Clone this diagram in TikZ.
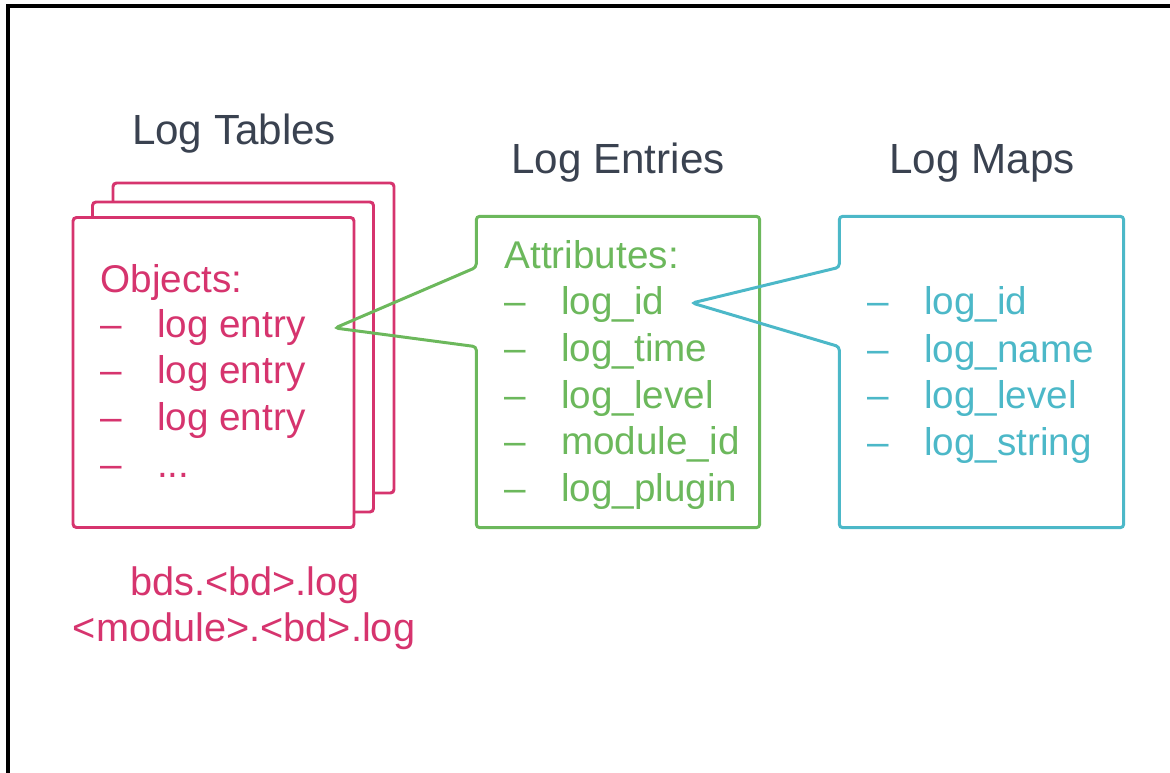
\documentclass[tikz,border=0pt]{standalone}
\usepackage{fontspec}
\setmainfont{Liberation Sans}
\usepackage{tikz}
\usetikzlibrary{positioning,calc}
\definecolor{logpink}{RGB}{214,52,110}
\definecolor{loggreen}{RGB}{108,184,92}
\definecolor{logcyan}{RGB}{76,184,200}
\definecolor{logtitle}{RGB}{58,66,80}
\newcommand{\litem}[1]{\makebox[5.65mm][l]{--}#1}

\begin{document}
\begin{tikzpicture}[x=0.1mm, y=-0.1mm,
hd/.style={font=\fontsize{12}{14}\selectfont, text=logtitle, anchor=base, inner sep=0pt},
tbl/.style={draw=logpink, fill=white, line width=0.85pt, rounded corners=1pt, inner sep=0pt,
minimum width=28.1mm, minimum height=31mm},
slot/.style={inner sep=0pt, minimum width=28.2mm, minimum height=31mm},
pinktxt/.style={font=\fontsize{11}{13}\selectfont, text=logpink, anchor=base west, inner sep=0pt},
greentxt/.style={font=\fontsize{11}{13}\selectfont, text=loggreen, anchor=base west, inner sep=0pt},
cyantxt/.style={font=\fontsize{11}{13}\selectfont, text=logcyan, anchor=base west, inner sep=0pt},
filetxt/.style={font=\fontsize{11.3}{13}\selectfont, text=logpink, anchor=base, inner sep=0pt},
entline/.style={draw=loggreen, line width=0.85pt, rounded corners=1pt},
mapline/.style={draw=logcyan, line width=0.85pt, rounded corners=1pt}
]
\useasboundingbox (0,0) rectangle (1170,773);
\draw[line width=0.9pt] (8,773) -- (8,6) -- (1170,6);

\node[hd] (hdtbl) at (234,145) {Log Tables};
\node[hd] (hdent) at (618,173) {Log Entries};
\node[hd] (hdmap) at (982,173) {Log Maps};

\node[tbl] (tblback)  at (253.5,338) {};
\node[tbl] (tblmid)   at (233,357)   {};
\node[tbl] (tblfront) at (213.5,372.5) {};

\node[pinktxt] (obj0) at (100,292) {Objects:};
\node[pinktxt] (obj1) at (100,337) {\litem{log entry}};
\node[pinktxt] (obj2) at (100,383.5) {\litem{log entry}};
\node[pinktxt] (obj3) at (100,430) {\litem{log entry}};
\node[pinktxt] (obj4) at (100,477) {\litem{...}};

\node[filetxt] (file1) at (245,595) {bds.<bd>.log};
\node[filetxt] (file2) at (244,641) {<module>.<bd>.log};

\node[slot] (ent) at (618,372) {};
\coordinate (enttip) at (335,328);
\draw[entline] (enttip) -- ([yshift=-5.1mm]ent.north west) -- (ent.north west) -- (ent.north east)
-- (ent.south east) -- (ent.south west) -- ([yshift=18.1mm]ent.south west) -- cycle;

\node[greentxt] (att0) at (504,268) {Attributes:};
\node[greentxt] (att1) at (504,315) {\litem{log\_id}};
\node[greentxt] (att2) at (504,361.5) {\litem{log\_time}};
\node[greentxt] (att3) at (504,408) {\litem{log\_level}};
\node[greentxt] (att4) at (504,454.5) {\litem{module\_id}};
\node[greentxt] (att5) at (504,501) {\litem{log\_plugin}};

\node[slot, minimum width=28.3mm] (map) at (981.5,372) {};
\coordinate (maptip) at (692,303);
\draw[mapline] (maptip) -- ([yshift=-5.1mm]map.north west) -- (map.north west) -- (map.north east)
-- (map.south east) -- (map.south west) -- ([yshift=18.1mm]map.south west) -- cycle;

\node[cyantxt] (map1) at (867,315) {\litem{log\_id}};
\node[cyantxt] (map2) at (867,362) {\litem{log\_name}};
\node[cyantxt] (map3) at (867,408) {\litem{log\_level}};
\node[cyantxt] (map4) at (867,455) {\litem{log\_string}};

\end{tikzpicture}
\end{document}
